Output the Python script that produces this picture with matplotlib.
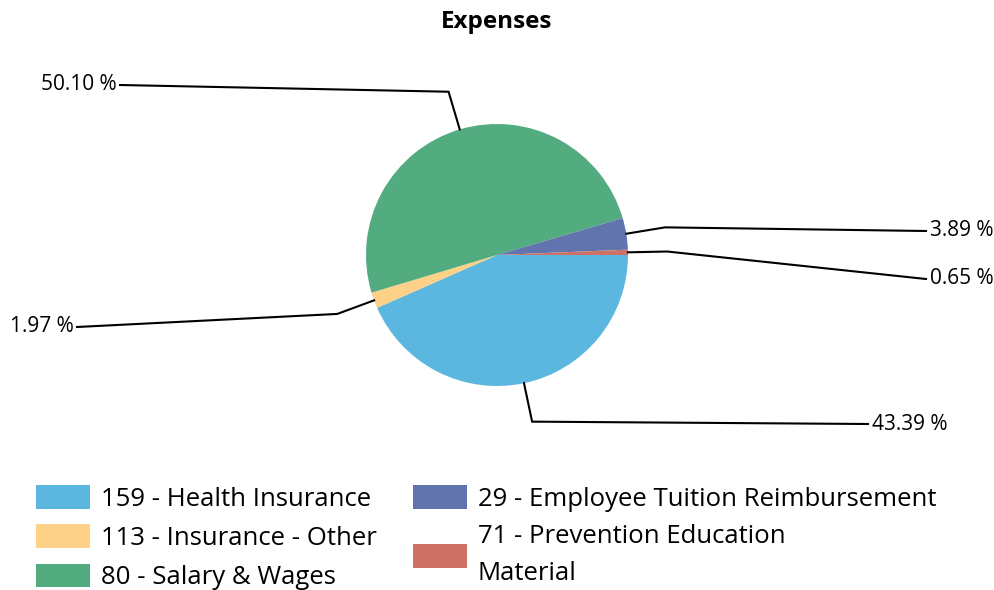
"""Expenses pie chart with leader-line percentage labels."""
import matplotlib; matplotlib.use("Agg")
import matplotlib.pyplot as plt
import numpy as np

names = ['159 - Health Insurance', '113 - Insurance - Other', '80 - Salary & Wages',
         '29 - Employee Tuition Reimbursement', '71 - Prevention Education\nMaterial']
shares = [43.39, 1.97, 50.10, 3.89, 0.65]
pct_text = ['43.39 %', '1.97 %', '50.10 %', '3.89 %', '0.65 %']
colors = ['#5bb7e0', '#fdd188', '#52ac80', '#6274ae', '#cd7066']

# label end points (pixel space, y measured from top)
label_at = [(868, 424), (77, 327), (120, 85), (926, 231), (926, 279)]
FONT = 'Open Sans'
W, H = 995, 590
CX, CY, R = 497, 335, 131

fig = plt.figure(figsize=(W / 100, H / 100), dpi=100)
ax = fig.add_axes([0, 0, 1, 1])
wedges, _ = ax.pie(shares, colors=colors, startangle=0, counterclock=False,
                   center=(CX, CY), radius=R, wedgeprops=dict(linewidth=0))
ax.set_xlim(0, W); ax.set_ylim(0, H); ax.set_aspect('equal'); ax.axis('off')

for w, txt, (lx, ly) in zip(wedges, pct_text, label_at):
    a = np.deg2rad((w.theta1 + w.theta2) / 2)
    x0, y0 = CX + R * np.cos(a), CY + R * np.sin(a)
    x1, y1 = CX + 1.3 * R * np.cos(a), CY + 1.3 * R * np.sin(a)
    ly = H - ly
    ax.plot([x0, x1, lx], [y0, y1, ly], color='black', lw=1.5, solid_joinstyle='miter')
    right = lx > CX
    ax.text(lx + (4 if right else -3), ly, txt, ha='left' if right else 'right', va='center',
            fontsize=15, family=FONT)

ax.text(CX, H - 22, 'Expenses', ha='center', va='center', fontsize=17.5, fontweight='bold', family=FONT)

leg = fig.legend(wedges, names, ncol=2, loc='upper left', bbox_to_anchor=(36 / W, 1 - 485 / H),
                 frameon=False, borderpad=0, borderaxespad=0, handlelength=2.1, handleheight=1.05,
                 handletextpad=0.43, columnspacing=1.4, labelspacing=0.49,
                 prop=dict(family=FONT, size=18.5))
for t in leg.get_texts():
    t.set_linespacing(1.6)

plt.savefig('out.png', dpi=100)
